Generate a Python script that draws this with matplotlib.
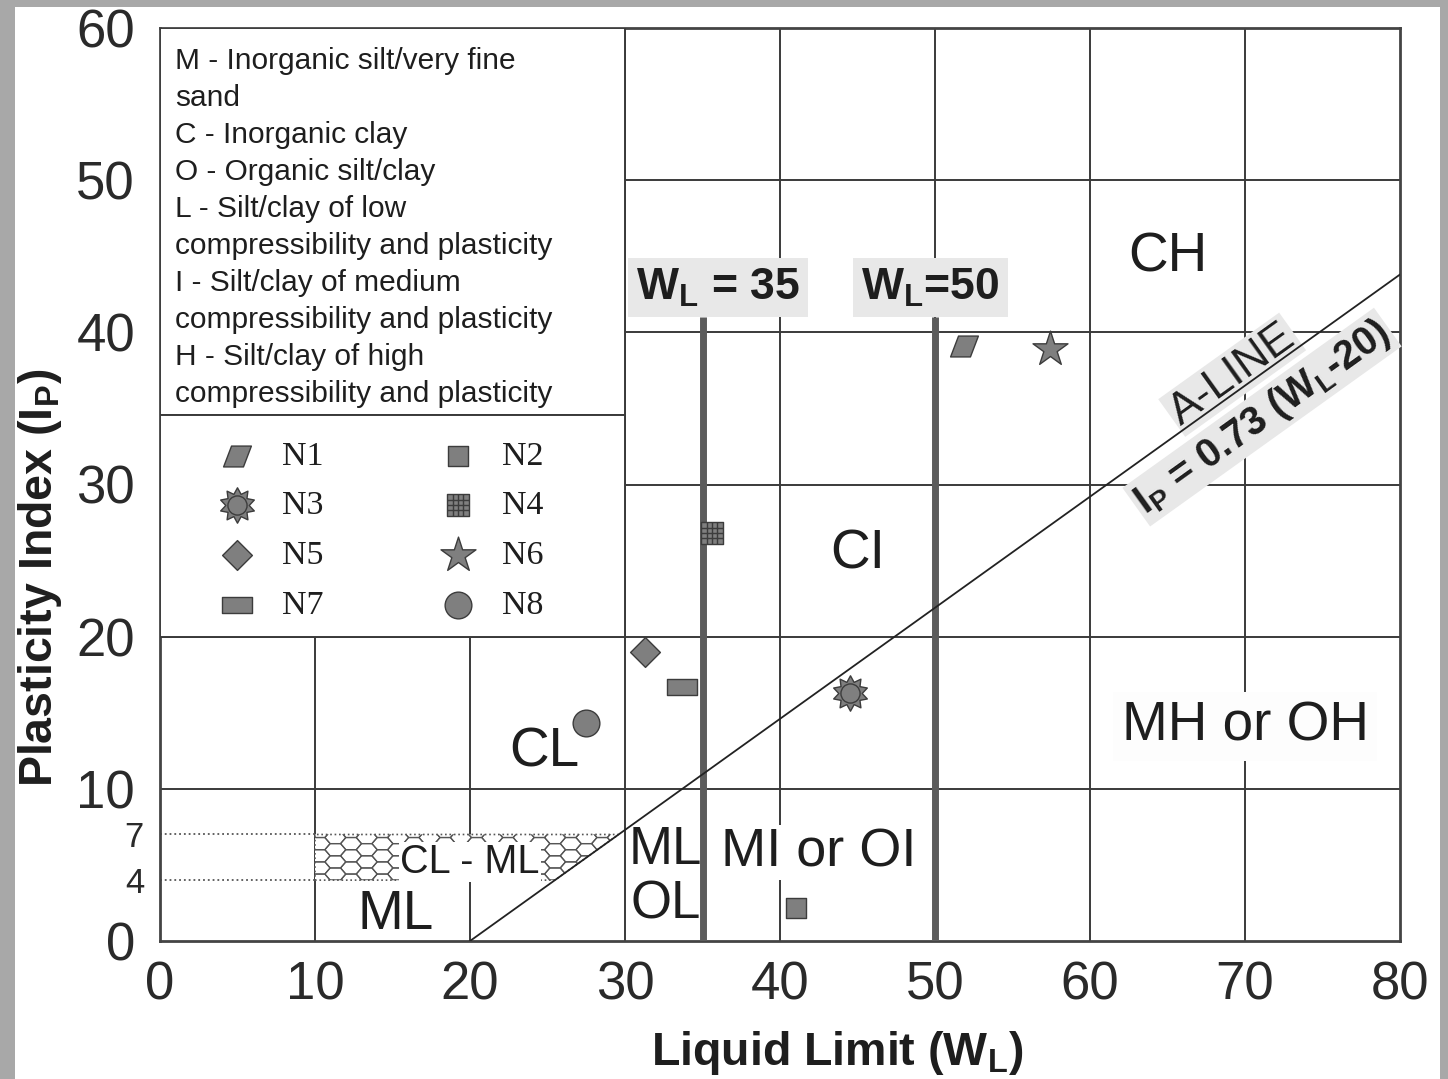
import numpy as np
import matplotlib.pyplot as plt
from matplotlib.path import Path
from matplotlib.patches import Rectangle, Polygon
from matplotlib.collections import LineCollection
from matplotlib.transforms import ScaledTranslation

plt.rcParams['font.family'] = ['Liberation Sans', 'DejaVu Sans']
plt.rcParams['mathtext.fontset'] = 'custom'
plt.rcParams['mathtext.rm'] = 'Liberation Sans'
plt.rcParams['mathtext.it'] = 'Liberation Sans:italic'
plt.rcParams['mathtext.bf'] = 'Liberation Sans:bold'

# Proben: Fliessgrenze W_L und Plastizitaetszahl I_P
samples = ['N1', 'N2', 'N3', 'N4', 'N5', 'N6', 'N7', 'N8']
liquid_limit = [51.9, 41.0, 44.5, 35.6, 31.3, 57.4, 33.7, 27.5]
plasticity_index = [39.1, 2.2, 16.3, 26.8, 19.0, 38.9, 16.7, 14.3]

# A-Linie: I_P = 0.73 (W_L - 20)
a_slope = 0.73
a_origin = 20
wl_bounds = [35, 50]
clml_band = [4, 7]

x_ticks = [0, 10, 20, 30, 40, 50, 60, 70, 80]
y_ticks = [0, 4, 7, 10, 20, 30, 40, 50, 60]

legend_lines = [
    'M - Inorganic silt/very fine',
    'sand',
    'C - Inorganic clay',
    'O - Organic silt/clay',
    'L - Silt/clay of low',
    'compressibility and plasticity',
    'I - Silt/clay of medium',
    'compressibility and plasticity',
    'H - Silt/clay of high',
    'compressibility and plasticity',
]

# Eigene Markerformen
parallelogram = Path([(-14, -10.5), (-6, 10.5), (14, 10.5), (6, -10.5), (-14, -10.5)],
                     [Path.MOVETO, Path.LINETO, Path.LINETO, Path.LINETO, Path.CLOSEPOLY])
wide_rect = Path([(-15, -8), (15, -8), (15, 8), (-15, 8), (-15, -8)],
                 [Path.MOVETO, Path.LINETO, Path.LINETO, Path.LINETO, Path.CLOSEPOLY])
grid_verts = [(-1, -1), (1, -1), (1, 1), (-1, 1), (-1, -1)]
grid_codes = [Path.MOVETO, Path.LINETO, Path.LINETO, Path.LINETO, Path.CLOSEPOLY]
for g in (-0.5, 0, 0.5):
    grid_verts += [(g, -1), (g, 1), (-1, g), (1, g)]
    grid_codes += [Path.MOVETO, Path.LINETO, Path.MOVETO, Path.LINETO]
grid_square = Path(grid_verts, grid_codes)
spiky = Path.unit_regular_star(10, 0.66)

marker_styles = {
    'N1': [(parallelogram, 400)],
    'N2': [('s', 200)],
    'N3': [(spiky, 650), ('o', 190)],
    'N4': [(grid_square, 230)],
    'N5': [('D', 230)],
    'N6': [('*', 700)],
    'N7': [(wide_rect, 440)],
    'N8': [('o', 370)],
}

fill = '#7f7f7f'
edge = '#3c3c3c'
line_col = '#3a3a3a'
txt_col = '#1e1e1e'

fig = plt.figure(figsize=(14.48, 10.79), dpi=100)
fig.patch.set_facecolor('#a8a8a8')
fig.add_artist(Rectangle((15 / 1448, 0), 1425 / 1448, 1072 / 1079,
                         transform=fig.transFigure, facecolor='white',
                         edgecolor='none', zorder=-10))
ax = fig.add_axes([160 / 1448, 1 - 941 / 1079, 1240 / 1448, 913 / 1079])
ax.set_xlim(0, 80)
ax.set_ylim(0, 60)

# Gitterlinien
for xv in x_ticks[1:-1]:
    ax.axvline(xv, color=line_col, lw=1.4, zorder=1)
for yv in [10, 20, 30, 40, 50]:
    ax.axhline(yv, color=line_col, lw=1.4, zorder=1)

# A-Linie
wl = np.array([a_origin, 80])
ax.plot(wl, a_slope * (wl - a_origin), color='#222222', lw=1.3, zorder=4)

# CL-ML Band mit Wabenmuster
x_lo = a_origin + clml_band[0] / a_slope
x_hi = a_origin + clml_band[1] / a_slope
band = Polygon([(10, clml_band[0]), (x_lo, clml_band[0]), (x_hi, clml_band[1]), (10, clml_band[1])],
               closed=True, facecolor='white', edgecolor='#555555', lw=1.2, ls=':', zorder=2)
ax.add_patch(band)
hw, hh = 1.35, 0.8
segs = []
col = 0
xc = 10.3
while xc < x_hi + hw:
    yc = clml_band[0] - hh + (col % 2) * hh / 2
    while yc < clml_band[1] + hh:
        hexa = [(xc - hw / 2, yc), (xc - hw / 4, yc + hh / 2), (xc + hw / 4, yc + hh / 2),
                (xc + hw / 2, yc), (xc + hw / 4, yc - hh / 2), (xc - hw / 4, yc - hh / 2),
                (xc - hw / 2, yc)]
        segs.append(hexa)
        yc += hh
    xc += 0.75 * hw
    col += 1
honey = LineCollection(segs, colors='#555555', linewidths=0.9, zorder=2)
ax.add_collection(honey)
honey.set_clip_path(band)
for yv in clml_band:
    ax.plot([0, 10], [yv, yv], color='#555555', lw=1.3, ls=':', zorder=2)

# Begrenzungen W_L = 35 und W_L = 50
ax.vlines(wl_bounds, 0, 41, color='#5c5c5c', lw=5, zorder=3)
box = dict(facecolor='#e8e8e8', edgecolor='none', pad=6)
ax.text(36.0, 42.95, r'W$_\mathregular{L}$ = 35', fontsize=32, fontweight='bold', color=txt_col,
        ha='center', va='center', bbox=box, zorder=6)
ax.text(49.7, 42.95, r'W$_\mathregular{L}$=50', fontsize=32, fontweight='bold', color=txt_col,
        ha='center', va='center', bbox=box, zorder=6)

# Beschriftung der A-Linie
ang = 35.6
ax.annotate('A-LINE', xy=(69.8, 36.3), xytext=(-7, 10), textcoords='offset points',
            fontsize=32, color=txt_col, rotation=ang, rotation_mode='anchor',
            ha='center', va='center', zorder=3,
            bbox=dict(facecolor='#e8e8e8', edgecolor='none', pad=2))
ax.annotate(r'I$_\mathregular{P}$ = 0.73 (W$_\mathregular{L}$-20)', xy=(69.8, 36.3),
            xytext=(14.5, -20.5), textcoords='offset points',
            fontsize=28.5, fontweight='bold', color=txt_col, rotation=ang,
            rotation_mode='anchor', ha='center', va='center', zorder=3,
            bbox=dict(facecolor='#e8e8e8', edgecolor='none', pad=2))

# Feldbezeichnungen
white = dict(facecolor='white', edgecolor='none', pad=2)
zone_kw = dict(color=txt_col, ha='center', va='center', zorder=6)
ax.text(65.0, 44.9, 'CH', fontsize=39.5, **zone_kw)
ax.text(45.0, 25.4, 'CI', fontsize=39.5, **zone_kw)
ax.text(70.0, 14.1, 'MH or OH', fontsize=39.5, bbox=dict(facecolor='#fdfdfd', edgecolor='none', pad=6), **zone_kw)
ax.text(24.8, 12.4, 'CL', fontsize=39.5, **zone_kw)
ax.text(15.2, 1.7, 'ML', fontsize=39.5, **zone_kw)
ax.text(32.6, 6.0, 'ML', fontsize=38, **zone_kw)
ax.text(32.6, 2.4, 'OL', fontsize=38, **zone_kw)
ax.text(42.5, 5.8, 'MI or OI', fontsize=39, bbox=white, **zone_kw)
ax.text(20.0, 5.2, 'CL - ML', fontsize=28.5, bbox=dict(facecolor='white', edgecolor='none', pad=0.5),
        **zone_kw)

# Erklaerungskasten
ax.add_patch(Rectangle((0, 34.6), 30, 25.4, facecolor='white', edgecolor=line_col, lw=1.4, zorder=5))
ax.add_patch(Rectangle((0, 20), 30, 14.6, facecolor='white', edgecolor=line_col, lw=1.4, zorder=5))
row_step = 37 / 15.22
for i, line in enumerate(legend_lines):
    ax.text(0.97, 57.8 - i * row_step, line,
            fontsize=21.5, color=txt_col, ha='left', va='center', zorder=6)

# Messpunkte
handles = {}
for name, x, y in zip(samples, liquid_limit, plasticity_index):
    parts = []
    for mk, size in marker_styles[name]:
        sc = ax.scatter([x], [y], marker=mk, s=size, facecolor=fill, edgecolor=edge,
                        linewidths=1.0, zorder=7)
        parts.append(sc)
    handles[name] = tuple(parts) if len(parts) > 1 else parts[0]

order = ['N1', 'N3', 'N5', 'N7', 'N2', 'N4', 'N6', 'N8']
leg = ax.legend([handles[n] for n in order], order, ncol=2, loc='center',
                bbox_to_anchor=(14.2, 26.95), bbox_transform=ax.transData, frameon=False,
                prop={'family': 'Liberation Serif', 'size': 24.5}, scatterpoints=1,
                handlelength=1.2, handletextpad=0.7, columnspacing=3.35, labelspacing=0.56)
for t in leg.get_texts():
    t.set_color(txt_col)
leg.set_zorder(8)

# Achsen
ax.set_xticks(x_ticks, labels=[str(v) for v in x_ticks])
ax.set_yticks(y_ticks, labels=[str(v) for v in y_ticks])
ax.tick_params(length=0, labelsize=38, labelcolor='#2a2a2a')
ax.tick_params(axis='y', pad=18)
ax.tick_params(axis='x', pad=14)
nudge = ScaledTranslation(9 / 100, 0, fig.dpi_scale_trans)
for lab in ax.get_yticklabels():
    if lab.get_text() in ('4', '7'):
        lab.set_fontsize(25)
        lab.set_transform(lab.get_transform() + nudge)
for sp in ax.spines.values():
    sp.set_color('#444444')
    sp.set_linewidth(2)

ax.set_xlabel(r'Liquid Limit (W$_\mathregular{L}$)', fontsize=33.5, fontweight='bold', color=txt_col)
ax.xaxis.set_label_coords(0.546, -0.123)
ax.xaxis.label.set_va('center')
ax.set_ylabel(r'Plasticity Index (I$_\mathregular{P}$)', fontsize=33.5, fontweight='bold', color=txt_col)
ax.yaxis.set_label_coords(-0.097, 0.398)
ax.yaxis.label.set_va('center')

fig.savefig('out.png', dpi=100, facecolor=fig.get_facecolor())
